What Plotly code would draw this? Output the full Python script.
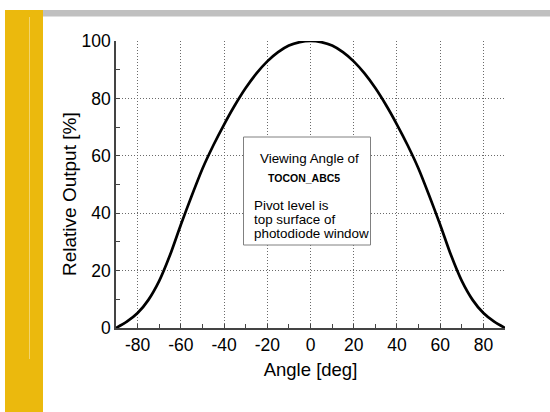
import plotly.graph_objects as go

# Data
angle_deg = [-90, -85, -80, -75, -70, -65, -60, -55, -50, -45, -40, -35, -30, -25, -20, -15, -10, -5,
             0, 5, 10, 15, 20, 25, 30, 35, 40, 45, 50, 55, 60, 65, 70, 75, 80, 85, 90]
relative_output = [0, 2.2, 5.2, 9.8, 16.4, 25.4, 36.0, 46.0, 55.5, 63.6, 70.9, 77.6, 83.6, 88.7, 92.9, 96.1, 98.4, 99.6,
                   100, 99.6, 98.4, 96.1, 92.9, 88.7, 83.6, 77.6, 70.9, 63.6, 55.5, 46.0, 36.0, 25.4, 16.4, 9.8, 5.2, 2.2, 0]
x_ticks = [-80, -60, -40, -20, 0, 20, 40, 60, 80]
y_ticks = [0, 20, 40, 60, 80, 100]
x_title = "Angle [deg]"
y_title = "Relative Output [%]"
note_lines = ["Viewing Angle of", "<b>TOCON_ABC5</b>", "Pivot level is", "top surface of", "photodiode window"]

W, H = 550, 412
ML, MR, MT, MB = 116, 45, 41, 84
PW, PH = W - ML - MR, H - MT - MB

def px(x):
    return (x - ML) / PW

def py(y):
    return 1 - (y - MT) / PH

FONT = "Liberation Sans, Arial, Helvetica, sans-serif"

fig = go.Figure()
fig.add_trace(go.Scatter(
    x=angle_deg, y=relative_output, mode="lines",
    line=dict(color="black", width=2.7, shape="spline", smoothing=0.6),
    hoverinfo="skip", showlegend=False,
))

shapes = [
    # yellow side bar
    dict(type="rect", xref="paper", yref="paper", x0=px(5), x1=px(43), y0=py(10), y1=py(412),
         fillcolor="#EBB90D", line=dict(width=0), layer="below"),
    dict(type="line", xref="paper", yref="paper", x0=px(29.5), x1=px(29.5), y0=py(17), y1=py(359),
         line=dict(color="#F2D46E", width=1), layer="below"),
    # grey top bar
    dict(type="rect", xref="paper", yref="paper", x0=px(43), x1=px(550), y0=py(10), y1=py(16.5),
         fillcolor="#C0C0C0", line=dict(width=0), layer="below"),
    # note box
    dict(type="rect", xref="paper", yref="paper", x0=px(243.5), x1=px(370.5), y0=py(137), y1=py(245),
         fillcolor="white", line=dict(color="#808080", width=1), layer="above"),
]

annotations = []
note_pos = [(258, 158.5, 13.4), (265.5, 178.5, 10.5), (251.5, 205, 13.4), (251.5, 219.3, 13.4), (251.5, 233.5, 13.4)]
for txt, (xx, yy, fs) in zip(note_lines, note_pos):
    annotations.append(dict(text=txt, xref="paper", yref="paper", x=px(xx), y=py(yy),
                            xanchor="left", yanchor="middle", showarrow=False,
                            font=dict(family=FONT, size=fs, color="black")))
# y axis title (placed as annotation to match its offset position)
annotations.append(dict(text=y_title, xref="paper", yref="paper", x=px(70), y=py(194),
                        xanchor="center", yanchor="middle", textangle=-90, showarrow=False,
                        font=dict(family=FONT, size=19, color="black")))

fig.update_layout(
    width=W, height=H,
    margin=dict(l=ML, r=MR, t=MT, b=MB, pad=0),
    paper_bgcolor="white", plot_bgcolor="white",
    font=dict(family=FONT, color="black"),
    shapes=shapes, annotations=annotations,
    showlegend=False,
)
axis_common = dict(
    showgrid=True, gridcolor="#6a6a6a", gridwidth=1, griddash="1px,2px",
    showline=True, linecolor="#444444", linewidth=1.6,
    ticks="inside", ticklen=4, tickcolor="#444444", tickwidth=1,
    tickfont=dict(size=17.5, family=FONT, color="black"),
    zeroline=False,
)
fig.update_xaxes(
    range=[-90, 90], tickvals=x_ticks, ticktext=[str(v) for v in x_ticks],
    title=dict(text=x_title, font=dict(size=18.5, family=FONT, color="black"), standoff=9),
    minor=dict(dtick=10, tick0=0, ticks="inside", ticklen=4, tickcolor="#444444", showgrid=False),
    **axis_common,
)
fig.update_yaxes(
    range=[0, 100], tickvals=y_ticks, ticktext=[str(v) for v in y_ticks],
    minor=dict(dtick=10, tick0=0, ticks="inside", ticklen=4, tickcolor="#444444", showgrid=False),
    **axis_common,
)

fig.write_html("out.html", config={"displayModeBar": False},
               post_script="document.body.style.margin='0';")
